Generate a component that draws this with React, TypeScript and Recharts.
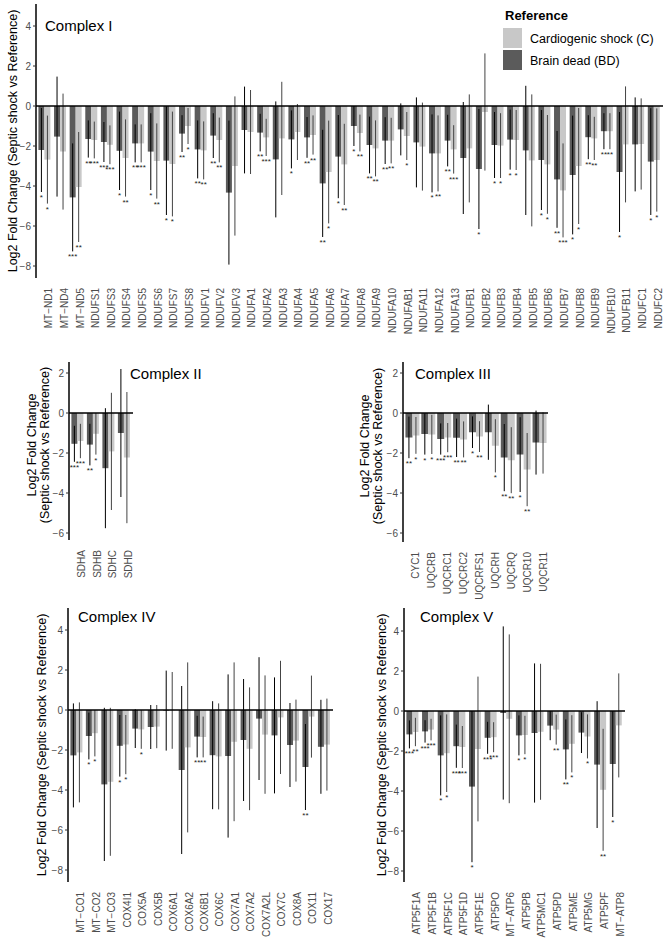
import React from "react";
import { BarChart, Bar, XAxis, YAxis, ErrorBar, ReferenceLine, LabelList } from "recharts";

// Complex I
const c1Genes = [
  "MT\u2212ND1", "MT\u2212ND4", "MT\u2212ND5", "NDUFS1", "NDUFS3", "NDUFS4", "NDUFS5", "NDUFS6",
  "NDUFS7", "NDUFS8", "NDUFV1", "NDUFV2", "NDUFV3", "NDUFA1", "NDUFA2", "NDUFA3", "NDUFA4",
  "NDUFA5", "NDUFA6", "NDUFA7", "NDUFA8", "NDUFA9", "NDUFA10", "NDUFAB1", "NDUFA11", "NDUFA12",
  "NDUFA13", "NDUFB1", "NDUFB2", "NDUFB3", "NDUFB4", "NDUFB5", "NDUFB6", "NDUFB7", "NDUFB8",
  "NDUFB9", "NDUFB10", "NDUFB11", "NDUFC1", "NDUFC2",
];
const c1BD = [
  -2.2, -1.53, -4.57, -1.65, -1.8, -2.24, -1.87, -2.28, -2.73, -1.38, -2.17, -1.48, -4.33, -1.2,
  -1.33, -2.67, -1.67, -1.57, -3.87, -2.53, -1.0, -1.95, -1.73, -1.17, -1.82, -2.37, -1.73, -2.6,
  -3.15, -1.95, -1.68, -2.22, -2.7, -3.67, -3.45, -1.56, -1.26, -3.3, -1.92, -2.78,
];
const c1BDErr = [
  2.1, 3.0, 2.7, 0.93, 1.0, 1.96, 0.95, 1.92, 2.72, 0.92, 1.45, 1.12, 3.6, 2.17, 0.94, 2.9, 1.45,
  1.02, 2.68, 2.08, 1.0, 1.42, 1.17, 1.3, 2.25, 1.95, 1.29, 2.8, 3.0, 1.65, 1.5, 3.23, 2.5, 2.42,
  2.97, 1.1, 0.9, 3.0, 2.35, 2.67,
];
const c1BDSig = [
  "*", "", "***", "**", "***", "*", "**", "*", "*", "**", "**", "**", "", "", "**", "", "*", "**",
  "**", "*", "*", "**", "**", "", "", "*", "**", "", "*", "*", "*", "", "*", "**", "*", "**", "**",
  "*", "", "*",
];
const c1C = [
  -2.68, -2.28, -4.05, -1.7, -1.94, -2.6, -1.87, -2.75, -2.9, -1.0, -2.22, -1.7, -3.0, -1.3,
  -1.57, -1.62, -1.3, -1.45, -3.3, -2.92, -1.35, -2.12, -1.73, -1.5, -2.03, -2.37, -2.17, -2.12,
  -0.3, -1.98, -1.7, -2.72, -2.92, -4.22, -3.0, -1.62, -1.26, -1.92, -1.9, -2.7,
];
const c1CErr = [
  2.2, 2.9, 2.75, 0.92, 0.97, 1.93, 0.95, 1.88, 2.62, 0.9, 1.45, 1.12, 3.48, 2.1, 0.93, 2.83, 1.4,
  0.98, 2.57, 2.03, 0.92, 1.4, 1.14, 1.2, 2.2, 1.9, 1.21, 2.7, 2.93, 1.62, 1.5, 3.3, 2.47, 2.35,
  2.9, 1.08, 0.9, 2.9, 2.28, 2.58,
];
const c1CSig = [
  "*", "", "**", "***", "***", "**", "***", "**", "*", "*", "**", "**", "", "", "***", "", "", "**",
  "*", "**", "**", "**", "**", "*", "", "**", "***", "", "", "*", "*", "", "*", "***", "*", "**",
  "**", "", "", "*",
];

// Complex II
const c2Genes = ["SDHA", "SDHB", "SDHC", "SDHD"];
const c2BD = [-1.54, -1.58, -2.76, -1.0];
const c2BDErr = [0.9, 1.04, 3.0, 3.2];
const c2BDSig = ["***", "**", "", ""];
const c2C = [-1.4, -1.04, -1.92, -2.23];
const c2CErr = [0.86, 1.04, 2.93, 3.28];
const c2CSig = ["***", "*", "", ""];

// Complex III
const c3Genes = ["CYC1", "UQCRB", "UQCRC1", "UQCRC2", "UQCRFS1", "UQCRH", "UQCRQ", "UQCR10", "UQCR11"];
const c3BD = [-1.22, -1.05, -1.3, -1.24, -0.96, -0.96, -2.23, -2.08, -1.48];
const c3BDErr = [1.04, 1.03, 0.78, 0.96, 0.79, 1.38, 1.68, 1.87, 1.6];
const c3BDSig = ["**", "*", "***", "**", "*", "", "**", "*", ""];
const c3C = [-1.12, -1.07, -1.23, -1.32, -1.18, -1.64, -2.36, -2.83, -1.5];
const c3CErr = [0.92, 0.98, 0.73, 0.9, 0.77, 1.33, 1.65, 1.83, 1.53];
const c3CSig = ["*", "*", "***", "**", "**", "*", "**", "**", ""];

// Complex IV
const c4Genes = [
  "MT\u2212CO1", "MT\u2212CO2", "MT\u2212CO3", "COX4I1", "COX5A", "COX5B", "COX6A1", "COX6A2",
  "COX6B1", "COX6C", "COX7A1", "COX7A2", "COX7A2L", "COX7C", "COX8A", "COX11", "COX17",
];
const c4BD = [-2.27, -1.3, -3.72, -1.79, -0.93, -0.85, -0.03, -3.0, -1.33, -2.26, -2.3, -1.5, -0.43, -1.27, -1.75, -2.85, -1.84];
const c4BDErr = [2.6, 1.17, 3.83, 1.54, 0.97, 1.1, 2.0, 4.2, 1.04, 2.7, 4.08, 3.05, 3.07, 2.9, 2.1, 2.15, 2.35];
const c4BDSig = ["", "*", "", "*", "", "", "", "", "**", "", "", "", "", "", "", "**", ""];
const c4C = [-2.12, -1.16, -3.59, -1.73, -0.97, -0.83, -0.02, -1.87, -1.35, -2.32, -1.59, -1.94, -1.23, -0.37, -1.53, -0.33, -1.73];
const c4CErr = [2.5, 1.16, 3.7, 1.48, 0.97, 1.08, 1.92, 4.25, 1.02, 2.65, 3.97, 3.07, 2.96, 2.83, 2.05, 2.05, 2.3];
const c4CSig = ["", "*", "", "*", "*", "", "", "", "**", "", "", "", "", "", "", "", ""];

// Complex V
const c5Genes = [
  "ATP5F1A", "ATP5F1B", "ATP5F1C", "ATP5F1D", "ATP5F1E", "ATP5PO", "MT\u2212ATP6", "ATP5PB",
  "ATP5MC1", "ATP5PD", "ATP5ME", "ATP5MG", "ATP5PF", "MT\u2212ATP8",
];
const c5BD = [-1.17, -1.02, -2.22, -1.76, -3.78, -1.34, -0.1, -1.22, -1.1, -0.73, -1.92, -1.08, -2.68, -2.65];
const c5BDErr = [0.7, 0.56, 2.0, 1.08, 3.78, 0.8, 4.33, 1.0, 3.48, 0.73, 1.5, 1.02, 3.17, 2.65];
const c5BDSig = ["***", "***", "*", "***", "*", "***", "", "*", "", "", "**", "", "", "*"];
const c5C = [-1.05, -0.93, -2.11, -1.8, -1.9, -1.31, -0.39, -1.2, -1.04, -0.93, -1.64, -1.27, -3.94, -0.72];
const c5CErr = [0.71, 0.54, 1.94, 1.05, 3.62, 0.75, 4.22, 0.96, 3.4, 0.75, 1.43, 1.1, 3.05, 2.6];
const c5CSig = ["**", "***", "*", "***", "", "***", "", "*", "", "**", "*", "*", "**", ""];

const DARK = "#5b5b5b";
const LIGHT = "#c8c8c8";
const FONT = "'Liberation Sans', Arial, Helvetica, sans-serif";
const Y_LABEL = "Log2 Fold Change (Septic shock vs Reference)";

const toRows = (genes: string[], bd: number[], bdErr: number[], bdSig: string[], c: number[], cErr: number[], cSig: string[]) =>
  genes.map((gene, i) => ({ gene, bd: bd[i], bdErr: bdErr[i], bdSig: bdSig[i], c: c[i], cErr: cErr[i], cSig: cSig[i] }));

const fmt = (v: number) => String(v).replace("-", "\u2212");

const XTick = (p: any) => (
  <text
    transform={`translate(${p.x},${p.y + 2}) rotate(-90)`}
    textAnchor="end"
    dy={7.5}
    fontSize={10}
    fill="#4d4d4d"
    fontFamily={FONT}
  >
    {p.payload.value}
  </text>
);

const YLabel = (p: any) => {
  const vb = p.viewBox || { x: 0, y: 0, width: 0, height: 0 };
  const cx = vb.x + p.at;
  const cy = vb.y + vb.height / 2 + (p.shift || 0);
  const lines: string[] = p.lines;
  return (
    <text transform={`translate(${cx},${cy}) rotate(-90)`} textAnchor="middle" fontSize={12.5} fill="#000" fontFamily={FONT}>
      {lines.map((l, i) => (
        <tspan key={i} x={0} y={(i - (lines.length - 1) / 2) * 13} dy="0.35em">
          {l}
        </tspan>
      ))}
    </text>
  );
};

// significance stars placed under the lower end of each error bar
const starLabel = (rows: any[], vKey: string, eKey: string) => (p: any) => {
  const row = rows[p.index];
  if (!row || !row[vKey + "Sig"]) return null;
  const vb = p.viewBox && p.viewBox.height !== undefined ? p.viewBox : p;
  const v = row[vKey];
  if (!v) return null;
  const top = Math.min(vb.y, vb.y + vb.height);
  const bottom = Math.max(vb.y, vb.y + vb.height);
  const ppu = (bottom - top) / Math.abs(v);
  const end = top + ppu * (Math.abs(v) + row[eKey]);
  return (
    <text x={vb.x + vb.width / 2} y={end + 8} textAnchor="middle" fontSize={8} fill="#222" fontFamily={FONT}>
      {row[vKey + "Sig"]}
    </text>
  );
};

type PanelProps = {
  rows: any[];
  left: number;
  top: number;
  width: number;
  height: number;
  mTop: number;
  mRight: number;
  yWidth: number;
  xHeight: number;
  domain: [number, number];
  ticks: number[];
  labelLines: string[];
  labelAt: number;
  labelShift?: number;
};

function Panel(p: PanelProps) {
  return (
    <div style={{ position: "absolute", left: p.left, top: p.top }}>
      <BarChart
        width={p.width}
        height={p.height}
        data={p.rows}
        margin={{ top: p.mTop, right: p.mRight, bottom: 0, left: 0 }}
        barCategoryGap="9%"
        barGap={0}
      >
        <XAxis
          dataKey="gene"
          axisLine={false}
          tickLine={false}
          interval={0}
          height={p.xHeight}
          tick={<XTick />}
          padding={{ left: 1, right: 1 }}
        />
        <YAxis
          domain={p.domain}
          ticks={p.ticks}
          allowDataOverflow
          width={p.yWidth}
          axisLine={{ stroke: "#000", strokeWidth: 1.5 }}
          tickLine={{ stroke: "#333" }}
          tickSize={3}
          tick={{ fontSize: 10, fill: "#4d4d4d", fontFamily: FONT }}
          tickFormatter={fmt}
          label={<YLabel lines={p.labelLines} at={p.labelAt} shift={p.labelShift} />}
        />
        <Bar dataKey="bd" fill={DARK} isAnimationActive={false}>
          <ErrorBar dataKey="bdErr" width={0} stroke="#000" strokeWidth={1} />
          <LabelList dataKey="bdSig" content={starLabel(p.rows, "bd", "bdErr")} />
        </Bar>
        <Bar dataKey="c" fill={LIGHT} isAnimationActive={false}>
          <ErrorBar dataKey="cErr" width={0} stroke="#444" strokeWidth={1} />
          <LabelList dataKey="cSig" content={starLabel(p.rows, "c", "cErr")} />
        </Bar>
        <ReferenceLine y={0} stroke="#000" strokeWidth={1.5} />
      </BarChart>
    </div>
  );
}

const rows1 = toRows(c1Genes, c1BD, c1BDErr, c1BDSig, c1C, c1CErr, c1CSig);
const rows2 = toRows(c2Genes, c2BD, c2BDErr, c2BDSig, c2C, c2CErr, c2CSig);
const rows3 = toRows(c3Genes, c3BD, c3BDErr, c3BDSig, c3C, c3CErr, c3CSig);
const rows4 = toRows(c4Genes, c4BD, c4BDErr, c4BDSig, c4C, c4CErr, c4CSig);
const rows5 = toRows(c5Genes, c5BD, c5BDErr, c5BDSig, c5C, c5CErr, c5CSig);

const bigTicks = [-8, -6, -4, -2, 0, 2, 4];
const smallTicks = [-6, -4, -2, 0, 2];
const twoLines = ["Log2 Fold Change", "(Septic shock vs Reference)"];

export default function App() {
  return (
    <div style={{ position: "absolute", left: 0, top: 0, width: 664, height: 944, background: "#fff", fontFamily: FONT }}>
      <Panel rows={rows1} left={0} top={0} width={664} height={345} mTop={4} mRight={1} yWidth={36} xHeight={67}
        domain={[-8.6, 5.1]} ticks={bigTicks} labelLines={[Y_LABEL]} labelAt={13} />
      <Panel rows={rows2} left={0} top={330} width={140} height={260} mTop={32} mRight={7} yWidth={69} xHeight={50}
        domain={[-6.35, 2.55]} ticks={smallTicks} labelLines={twoLines} labelAt={38.5} labelShift={-6} />
      <Panel rows={rows3} left={330} top={330} width={223} height={285} mTop={32} mRight={5} yWidth={73} xHeight={73}
        domain={[-6.45, 2.55]} ticks={smallTicks} labelLines={twoLines} labelAt={41.5} labelShift={-6} />
      <Panel rows={rows4} left={0} top={580} width={340} height={364} mTop={28} mRight={7} yWidth={68} xHeight={62}
        domain={[-8.6, 5.1]} ticks={bigTicks} labelLines={[Y_LABEL]} labelAt={42} />
      <Panel rows={rows5} left={330} top={580} width={300} height={364} mTop={28} mRight={5} yWidth={74} xHeight={62}
        domain={[-8.55, 5.15]} ticks={bigTicks} labelLines={[Y_LABEL]} labelAt={52} />
      <svg width={664} height={944} style={{ position: "absolute", left: 0, top: 0, pointerEvents: "none" }} fontFamily={FONT}>
        <text x={45} y={31} fontSize={15} fill="#000">Complex I</text>
        <text x={130} y={379} fontSize={15} fill="#000">Complex II</text>
        <text x={415} y={379} fontSize={15} fill="#000">Complex III</text>
        <text x={78} y={622} fontSize={15} fill="#000">Complex IV</text>
        <text x={420} y={622} fontSize={15} fill="#000">Complex V</text>
        <text x={505} y={20} fontSize={13} fontWeight="bold" fill="#000">Reference</text>
        <rect x={503} y={28} width={19} height={20} fill={LIGHT} />
        <rect x={503} y={50} width={19} height={20} fill={DARK} />
        <text x={530} y={39} dy="0.35em" fontSize={12.5} fill="#000">Cardiogenic shock (C)</text>
        <text x={530} y={61} dy="0.35em" fontSize={12.5} fill="#000">Brain dead (BD)</text>
      </svg>
    </div>
  );
}
